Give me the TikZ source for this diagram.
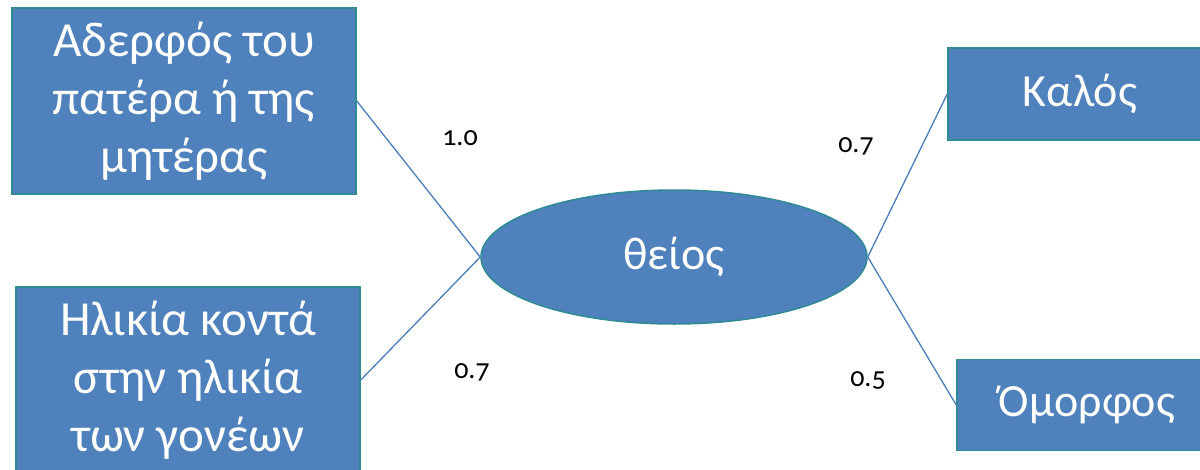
\documentclass[tikz,border=0pt]{standalone}
\usepackage{fontspec}
\setmainfont{Carlito}
\newfontfamily\numfont[Numbers=OldStyle]{Carlito}
\usetikzlibrary{shapes.geometric}
\definecolor{boxfill}{RGB}{79,129,189}
\definecolor{boxline}{RGB}{48,138,148}
\definecolor{conn}{RGB}{74,126,187}
\tikzset{
  bluebox/.style={rectangle, fill=boxfill, draw=boxline, line width=1.5pt, text=white, inner sep=0pt, align=center},
  blueell/.style={ellipse, fill=boxfill, draw=boxline, line width=1.5pt, text=white, inner sep=0pt},
  bigtxt/.style={font=\fontsize{49}{58}\selectfont},
  hugetxt/.style={font=\fontsize{46}{58}\selectfont},
  wlabel/.style={font=\numfont\fontsize{28}{30}\selectfont, text=black, inner sep=0pt},
  connector/.style={draw=conn, line width=1.3pt}
}
\begin{document}
\begin{tikzpicture}[x=1pt,y=-1pt]
\useasboundingbox (0,0) rectangle (1200,469);
\clip (0,0) rectangle (1200,469);
\node[bluebox, bigtxt, minimum width=344pt, minimum height=186pt] (tl) at (184,101) {Αδερφός του\\πατέρα ή της\\μητέρας};
\node[bluebox, bigtxt, minimum width=344pt, minimum height=186pt] (bl) at (188,380) {Ηλικία κοντά\\στην ηλικία\\των γονέων};
\node[blueell, hugetxt, minimum width=386pt, minimum height=134pt] (th) at (674,257) {θείος};
\node[bluebox, hugetxt, minimum width=264pt, minimum height=92pt] (ka) at (1080,94) {Καλός};
\node[bluebox, hugetxt, minimum width=260pt, minimum height=91pt] (om) at (1087,405) {Όμορφος};
\draw[connector] (tl.east) -- (th.west);
\draw[connector] (bl.east) -- (th.west);
\draw[connector] (th.east) -- (ka.west);
\draw[connector] (th.east) -- (om.west);
\node[wlabel] (l1) at (460,138) {1.0};
\node[wlabel] (l2) at (856,146) {0.7};
\node[wlabel] (l3) at (472,372) {0.7};
\node[wlabel] (l4) at (868,380) {0.5};
\end{tikzpicture}
\end{document}
